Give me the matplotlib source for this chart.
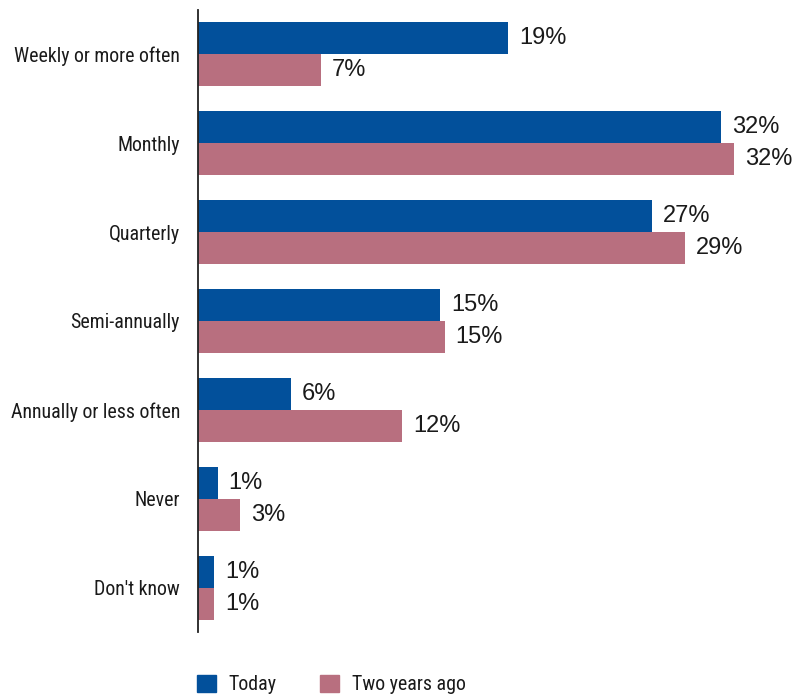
import matplotlib.pyplot as plt
import numpy as np
from matplotlib.patches import Patch
from matplotlib import font_manager as fm

# categories, top to bottom
categories = ["Weekly or more often", "Monthly", "Quarterly", "Semi-annually",
              "Annually or less often", "Never", "Don't know"]

# bar lengths (%), and the printed labels
today = [19.0, 32.0, 27.8, 14.8, 5.7, 1.2, 1.0]
two_years_ago = [7.5, 32.8, 29.8, 15.1, 12.5, 2.6, 1.0]
today_labels = ["19%", "32%", "27%", "15%", "6%", "1%", "1%"]
two_years_labels = ["7%", "32%", "29%", "15%", "12%", "3%", "1%"]

series_names = ["Today", "Two years ago"]
blue = "#02509b"
pink = "#b86f7f"
text_col = "#1a1a1a"


def find_condensed():
    # look for a narrow sans face, the reference uses a condensed font
    cands = []
    for f in fm.fontManager.ttflist:
        st = f.stretch
        if isinstance(st, str):
            narrow = st in ("condensed", "semi-condensed", "extra-condensed", "ultra-condensed")
        else:
            narrow = st < 500
        name = f.name.lower()
        if ("narrow" in name or "condensed" in name or narrow) and f.style == "normal" \
                and f.weight in (400, "normal", "regular", "book"):
            cands.append(f)
    for pref in ["roboto condensed", "liberation sans narrow", "open sans condensed",
                 "noto sans", "dejavu sans", "roboto", "open sans"]:
        for f in cands:
            if f.name.lower().startswith(pref):
                return fm.FontProperties(fname=f.fname)
    if cands:
        return fm.FontProperties(fname=cands[0].fname)
    return None


cond = find_condensed()
if cond is None:
    cond = fm.FontProperties(family=["Liberation Sans", "DejaVu Sans"])
cat_prop = cond.copy()
cat_prop.set_size(14.3)

val_font = ["Liberation Sans", "DejaVu Sans"]

fig = plt.figure(figsize=(8.09, 6.95), dpi=100)
ax = fig.add_axes([198 / 809, 63 / 695, 588 / 809, 622 / 695])

y = np.arange(len(categories))
h = 0.36

ax.barh(y - h / 2, today, height=h, color=blue, left=0)
ax.barh(y + h / 2, two_years_ago, height=h, color=pink, left=0)

# value labels next to each bar
for i in range(len(categories)):
    ax.annotate(today_labels[i], (today[i], y[i] - h / 2), xytext=(8, 0),
                textcoords="offset points", va="center", ha="left",
                fontsize=17, family=val_font, color=text_col)
    ax.annotate(two_years_labels[i], (two_years_ago[i], y[i] + h / 2), xytext=(8, 0),
                textcoords="offset points", va="center", ha="left",
                fontsize=17, family=val_font, color=text_col)

ax.set_ylim(len(categories) - 0.5, -0.5)
ax.set_xlim(0, 36)

ax.set_yticks(y)
ax.set_yticklabels(categories, color=text_col)
for t in ax.get_yticklabels():
    t.set_fontproperties(cat_prop)
ax.tick_params(axis="y", length=0, pad=13)
ax.set_xticks([])

for s in ["top", "right", "bottom"]:
    ax.spines[s].set_visible(False)
ax.spines["left"].set_color("#222222")
ax.spines["left"].set_linewidth(1.3)

handles = [Patch(color=blue), Patch(color=pink)]
fig.legend(handles, series_names, loc="upper left",
           bbox_to_anchor=(179 / 809, 1 - 657 / 695), ncol=2, frameon=False,
           handlelength=0.95, handleheight=0.95, handletextpad=0.65, columnspacing=2.2,
           prop=cat_prop, labelcolor=text_col)

fig.savefig("out.png", dpi=100)
